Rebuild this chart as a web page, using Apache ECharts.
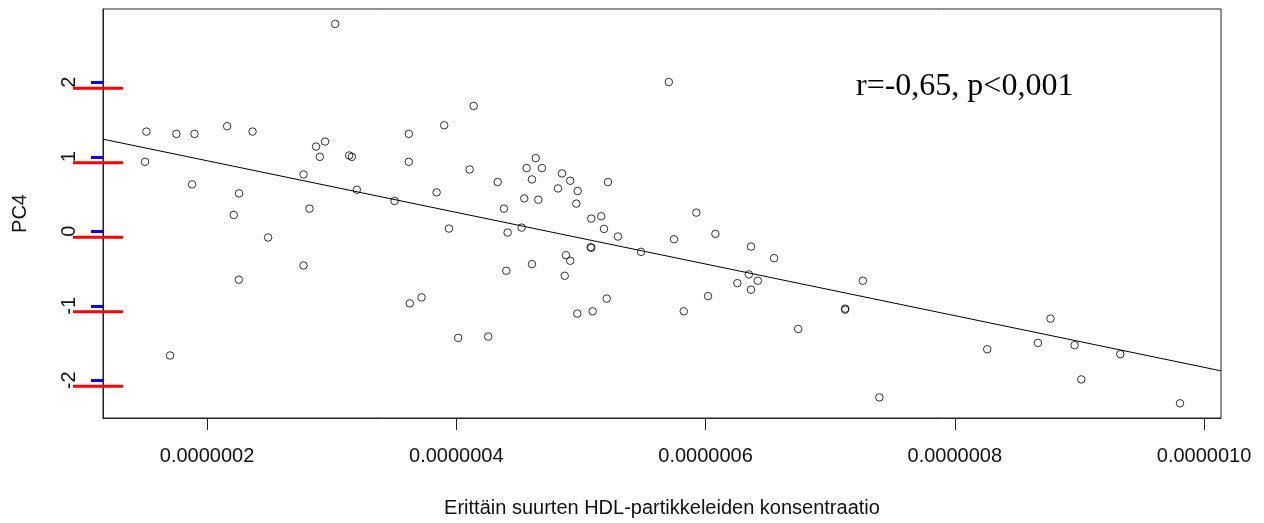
<!DOCTYPE html>
<html>
<head>
<meta charset="utf-8">
<script src="https://cdn.jsdelivr.net/npm/echarts@6/dist/echarts.min.js"></script>
<style>
  html, body { margin: 0; padding: 0; background: #fff; }
  #chart { width: 1264px; height: 523px; }
</style>
</head>
<body>
<div id="chart"></div>
<script>
// x: very large HDL particle concentration, y: PC4
const concX = [
  3.028e-7, 4.139e-7, 1.513e-7, 1.754e-7, 1.899e-7, 2.161e-7, 2.365e-7, 3.903e-7, 3.619e-7, 1.502e-7,
  2.947e-7, 2.875e-7, 2.905e-7, 3.140e-7, 3.162e-7, 3.619e-7, 4.107e-7, 1.880e-7, 2.774e-7, 2.257e-7,
  3.202e-7, 3.505e-7, 3.842e-7, 2.214e-7, 2.822e-7, 3.941e-7, 2.490e-7, 2.774e-7, 2.255e-7, 3.627e-7,
  3.721e-7, 4.015e-7, 4.256e-7, 1.703e-7, 5.705e-7, 4.637e-7, 4.564e-7, 4.687e-7, 4.607e-7, 4.332e-7,
  4.848e-7, 4.914e-7, 5.217e-7, 4.816e-7, 4.974e-7, 4.545e-7, 4.658e-7, 4.963e-7, 4.382e-7, 5.926e-7,
  4.412e-7, 4.524e-7, 5.083e-7, 5.163e-7, 5.185e-7, 5.297e-7, 6.079e-7, 5.747e-7, 6.365e-7, 5.078e-7,
  5.083e-7, 5.482e-7, 4.880e-7, 6.550e-7, 4.914e-7, 4.607e-7, 4.401e-7, 4.870e-7, 6.347e-7, 6.419e-7,
  6.255e-7, 6.365e-7, 6.020e-7, 5.207e-7, 5.094e-7, 4.971e-7, 5.825e-7, 6.743e-7, 7.262e-7, 7.120e-7,
  7.120e-7, 7.395e-7, 8.768e-7, 8.260e-7, 8.667e-7, 8.961e-7, 9.328e-7, 9.015e-7, 9.807e-7
];
const pc4 = [
  2.783, 1.682, 1.338, 1.307, 1.307, 1.410, 1.338, 1.423, 1.307, 0.932,
  1.204, 1.137, 0.999, 1.017, 0.999, 0.932, 0.829, 0.629, 0.763, 0.508,
  0.558, 0.407, 0.522, 0.219, 0.304, 0.036, -0.084, -0.459, -0.650, -0.967,
  -0.887, -1.431, -1.413, -1.667, 2.003, 0.982, 0.848, 0.848, 0.696, 0.661,
  0.776, 0.678, 0.661, 0.575, 0.540, 0.441, 0.424, 0.371, 0.304, 0.250,
  -0.017, 0.049, 0.170, 0.201, 0.032, -0.071, -0.035, -0.107, -0.205, -0.214,
  -0.222, -0.276, -0.321, -0.361, -0.396, -0.441, -0.530, -0.597, -0.579, -0.664,
  -0.696, -0.784, -0.870, -0.904, -1.074, -1.105, -1.074, -1.311, -0.664, -1.038,
  -1.052, -2.229, -1.172, -1.583, -1.498, -1.529, -1.649, -1.988, -2.309
];

// fitted line, read at both ends of the plot
const fitX = [1.165e-7, 1.0136e-6];
const fitY = [1.236, -1.873];

const xTicks = [2e-7, 4e-7, 6e-7, 8e-7, 1e-6];
const xTickLabels = ["0.0000002", "0.0000004", "0.0000006", "0.0000008", "0.0000010"];
const yTicks = [-2, -1, 0, 1, 2];

const xRange = [1.165e-7, 1.0136e-6];
const yRange = [-2.506, 2.983];

const chart = echarts.init(document.getElementById("chart"), null, { renderer: "canvas" });

const sans = "Liberation Sans";
const tickLen = 12;

const option = {
  animation: false,
  backgroundColor: "#fff",
  grid: {
    left: 103,
    right: 43,
    top: 9,
    bottom: 104,
    show: true,
    borderColor: "#222",
    borderWidth: 1,
    backgroundColor: "transparent",
  },
  xAxis: {
    type: "value",
    min: xRange[0],
    max: xRange[1],
    name: "Erittäin suurten HDL-partikkeleiden konsentraatio",
    nameLocation: "middle",
    nameGap: 80,
    nameTextStyle: { fontFamily: sans, fontSize: 20, color: "#111" },
    axisLine: { show: true, onZero: false, lineStyle: { color: "#222", width: 1 } },
    splitLine: { show: false },
    axisTick: {
      show: true,
      length: tickLen,
      customValues: xTicks,
      lineStyle: { color: "#222", width: 1 },
    },
    axisLabel: {
      customValues: xTicks,
      margin: 28,
      fontFamily: sans,
      fontSize: 20,
      color: "#111",
      formatter: (v) => {
        const i = xTicks.findIndex((t) => Math.abs(t - v) < 1e-12);
        return i >= 0 ? xTickLabels[i] : "";
      },
    },
  },
  yAxis: {
    type: "value",
    min: yRange[0],
    max: yRange[1],
    name: "PC4",
    nameLocation: "middle",
    nameGap: 73,
    nameTextStyle: { fontFamily: sans, fontSize: 20, color: "#111" },
    axisLine: { show: true, onZero: false, lineStyle: { color: "#222", width: 1 } },
    splitLine: { show: false },
    axisTick: {
      show: true,
      length: tickLen,
      customValues: yTicks,
      lineStyle: { color: "blue", width: 3 },
    },
    axisLabel: {
      customValues: yTicks,
      rotate: 90,
      margin: 24,
      fontFamily: sans,
      fontSize: 20,
      color: "#111",
    },
  },
  graphic: [
    {
      type: "text",
      left: 856,
      top: 71,
      style: {
        text: "r=-0,65, p<0,001",
        font: '32px "Liberation Serif"',
        fill: "#000",
      },
    },
  ],
  series: [
    {
      type: "scatter",
      data: concX.map((x, i) => [x, pc4[i]]),
      symbol: "circle",
      symbolSize: 7.5,
      itemStyle: {
        color: "rgba(0,0,0,0)",
        borderColor: "#000",
        borderWidth: 1,
      },
      emphasis: { disabled: true },
      silent: true,
    },
    {
      type: "line",
      data: fitX.map((x, i) => [x, fitY[i]]),
      showSymbol: false,
      symbol: "none",
      lineStyle: { color: "#000", width: 1 },
      silent: true,
    },
    {
      // left-axis tick marks, placed through the y scale
      type: "custom",
      silent: true,
      clip: false,
      z: 10,
      data: yTicks.map((v) => [xRange[0], v]),
      renderItem: (params, api) => {
        const p = api.coord([api.value(0), api.value(1)]);
        return {
          type: "line",
          shape: { x1: p[0] - 30, y1: p[1] + 6, x2: p[0] + 20, y2: p[1] + 6 },
          style: { stroke: "red", lineWidth: 3 },
        };
      },
    },
  ],
};

chart.setOption(option);
window.addEventListener("resize", () => chart.resize());
</script>
</body>
</html>
